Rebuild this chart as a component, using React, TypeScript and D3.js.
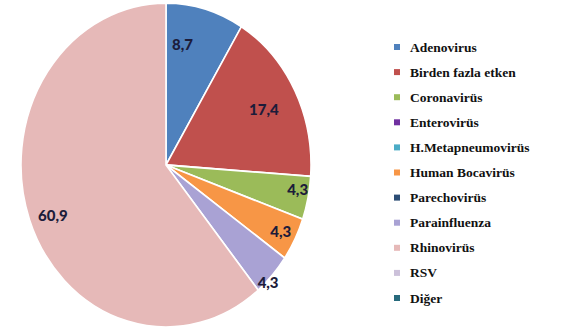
import React from "react";
import * as d3 from "d3";

const categories = [
  "Adenovirus",
  "Birden fazla etken",
  "Coronavirüs",
  "Enterovirüs",
  "H.Metapneumovirüs",
  "Human Bocavirüs",
  "Parechovirüs",
  "Parainfluenza",
  "Rhinovirüs",
  "RSV",
  "Diğer",
];
const values = [8.7, 17.4, 4.3, 0, 0, 4.3, 0, 4.3, 60.9, 0, 0];
const labels = ["8,7", "17,4", "4,3", "", "", "4,3", "", "4,3", "60,9", "", ""];
const colors = [
  "#4F81BD",
  "#C0504D",
  "#9BBB59",
  "#7030A0",
  "#4BACC6",
  "#F79646",
  "#2C4D75",
  "#A9A2D4",
  "#E6B9B8",
  "#CCC1DA",
  "#276A7C",
];
const labelRadius = [0.755, 0.76, 0.92, 0, 0, 0.89, 0, 1.01, 0.84, 0, 0];
const labelAngleShift = [-7, 0, -2.5, 0, 0, 0, 0, 3, -2, 0, 0];

export default function App() {
  const width = 567;
  const height = 330;
  const cx = 166;
  const cy = 165;
  const rx = 145;
  const ry = 162;

  const pie = d3.pie<number>().value((d) => d).sort(null);
  const arcs = pie(values);
  const arcGen = d3.arc<d3.PieArcDatum<number>>().innerRadius(0).outerRadius(rx);

  const legendY = d3.scalePoint<string>().domain(categories).range([47, 298]);

  return (
    <svg
      width={width}
      height={height}
      style={{ position: "absolute", left: 0, top: 0, background: "#fff" }}
    >
      <g transform={`translate(${cx},${cy}) scale(1,${ry / rx})`}>
        {arcs.map((a, i) =>
          a.value > 0 ? (
            <path
              key={i}
              d={arcGen(a) || ""}
              fill={colors[i]}
              stroke="#fff"
              strokeWidth={1.6}
            />
          ) : null
        )}
      </g>
      {arcs.map((a, i) => {
        if (a.value <= 0) return null;
        const mid = (a.startAngle + a.endAngle) / 2 + (labelAngleShift[i] * Math.PI) / 180;
        const f = labelRadius[i];
        const x = cx + rx * f * Math.sin(mid);
        const y = cy - ry * f * Math.cos(mid);
        return (
          <text
            key={"l" + i}
            x={x}
            y={y}
            textAnchor="middle"
            dominantBaseline="central"
            fontFamily="Lato, 'Open Sans', sans-serif"
            fontWeight={900}
            fontSize={15}
            fill="#1C1C3A"
          >
            {labels[i]}
          </text>
        );
      })}
      {categories.map((c, i) => (
        <g key={"lg" + i} transform={`translate(0,${legendY(c)})`}>
          <rect x={394} y={-3} width={6} height={6} fill={colors[i]} />
          <text
            x={410}
            y={0}
            dominantBaseline="central"
            fontFamily="'Liberation Serif', 'Times New Roman', 'DejaVu Serif', serif"
            fontWeight="bold"
            fontSize={13.5}
            fill="#111"
          >
            {c}
          </text>
        </g>
      ))}
    </svg>
  );
}
